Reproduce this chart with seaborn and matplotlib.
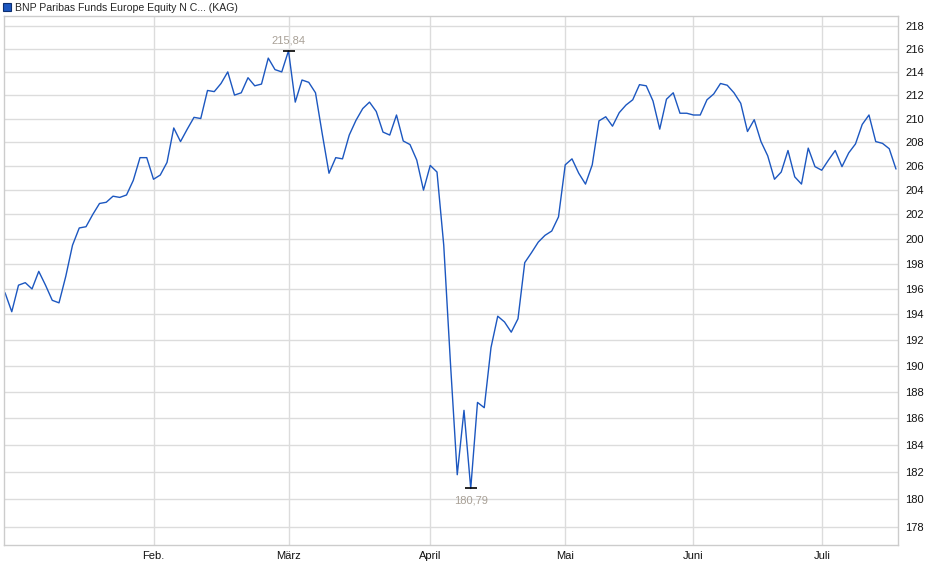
import matplotlib
matplotlib.use("Agg")
import matplotlib.pyplot as plt
import matplotlib.ticker as mticker
from matplotlib.patches import Patch
import numpy as np
import pandas as pd
import seaborn as sns

# trading days (KAG fund, German holidays dropped)
holidays = ["2025-04-18", "2025-04-21", "2025-05-01", "2025-05-29",
            "2025-05-30", "2025-06-09", "2025-06-19"]
dates = pd.bdate_range("2025-01-02", "2025-07-16")
dates = dates[~dates.isin(pd.to_datetime(holidays))]

values = [
    195.7, 194.2, 196.3, 196.5, 196.0, 197.4, 196.3, 195.1, 194.9, 197.0,
    199.5, 200.9, 201.0, 202.0, 202.9, 203.0, 203.5, 203.4, 203.6, 204.8,
    206.7, 206.7, 204.9, 205.25, 206.3, 209.2, 208.05, 209.1, 210.1, 210.0,
    212.4, 212.3, 213.0, 214.0, 212.0, 212.2, 213.5, 212.8, 212.95, 215.2,
    214.2, 214.0, 215.84, 211.4, 213.3, 213.1, 212.2, 208.7, 205.4, 206.7,
    206.6, 208.6, 209.85, 210.85, 211.4, 210.6, 208.85, 208.6, 210.3, 208.1,
    207.8, 206.5, 204.0, 206.05, 205.5, 199.5, 190.15, 181.8, 186.6, 180.79,
    187.2, 186.8, 191.4, 193.85, 193.4, 192.6, 193.65, 198.1, 198.9, 199.75,
    200.3, 200.65, 201.8, 206.1, 206.6, 205.4, 204.5, 206.1, 209.8, 210.15,
    209.35, 210.5, 211.15, 211.6, 212.9, 212.8, 211.5, 209.1, 211.65, 212.2,
    210.45, 210.45, 210.3, 210.3, 211.6, 212.1, 213.0, 212.85, 212.2, 211.3,
    208.9, 209.9, 208.05, 206.85, 204.9, 205.5, 207.3, 205.1, 204.5, 207.5,
    205.95, 205.65, 206.5, 207.3, 205.95, 207.1, 207.85, 209.5, 210.3, 208.05,
    207.9, 207.45, 205.75,
]

month_labels = ["Feb.", "März", "April", "Mai", "Juni", "Juli"]
y_ticks = list(range(178, 219, 2))
series_name = "BNP Paribas Funds Europe Equity N C... (KAG)"

line_color = "#1c57c0"
grid_color = "#dcdcdc"

df = pd.DataFrame({"date": dates, "value": values})
df["idx"] = np.arange(len(df))

sns.set_style("white")
plt.rcParams["font.family"] = ["Liberation Sans", "DejaVu Sans"]

fig = plt.figure(figsize=(9.4, 5.79), dpi=100)
ax = fig.add_axes([4 / 940, 34 / 579, 894 / 940, 529 / 579])

sns.lineplot(data=df, x="idx", y="value", ax=ax, color=line_color, linewidth=1.0)

ax.set_yscale("log")
ax.set_ylim(176.7, 218.9)
ax.set_xlim(-0.15, len(df) - 0.7)
ax.yaxis.set_major_locator(mticker.FixedLocator(y_ticks))
ax.yaxis.set_major_formatter(mticker.FixedFormatter([str(t) for t in y_ticks]))
ax.yaxis.set_minor_locator(mticker.NullLocator())
ax.yaxis.tick_right()

# first trading day of each month after January
month_start = df.groupby(df["date"].dt.month)["idx"].min().iloc[1:]
ax.set_xticks(month_start.values)
ax.set_xticklabels(month_labels)

ax.grid(True, color=grid_color, linewidth=1)
ax.set_axisbelow(True)
for sp in ax.spines.values():
    sp.set_color("#cccccc")
    sp.set_linewidth(1)
ax.tick_params(axis="both", length=0, labelsize=8, labelcolor="#111111")
ax.tick_params(axis="y", pad=5)
ax.tick_params(axis="x", pad=4)
ax.set_xlabel("")
ax.set_ylabel("")

# high / low markers
hi = df["value"].idxmax()
lo = df["value"].idxmin()
for i, off, va in [(hi, 4, "bottom"), (lo, -5, "top")]:
    ax.plot(df.loc[i, "idx"], df.loc[i, "value"], marker="_", color="black",
            markersize=9, markeredgewidth=1.2)
    ax.annotate(f"{df.loc[i, 'value']:.2f}".replace(".", ","),
                (df.loc[i, "idx"], df.loc[i, "value"]),
                textcoords="offset points", xytext=(0, off), ha="center", va=va,
                fontsize=8, color="#a8a096")

handle = Patch(facecolor=line_color, edgecolor="#0d2f70", linewidth=0.8)
fig.legend([handle], [series_name], loc="upper left", bbox_to_anchor=(0.0, 1.0),
           frameon=False, fontsize=7.6, handlelength=0.75, handleheight=0.75,
           handletextpad=0.4, borderpad=0.25, borderaxespad=0.0)

fig.savefig("out.png", dpi=100)
